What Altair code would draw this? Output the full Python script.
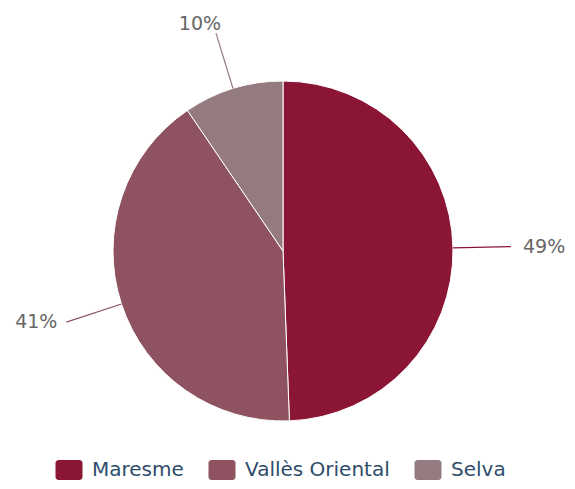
import altair as alt
import pandas as pd

categories = ["Maresme", "Vallès Oriental", "Selva"]
values = [49.4, 41.1, 9.5]
labels = ["49%", "41%", "10%"]
colors = ["#8B1535", "#8E5260", "#947B80"]
order = [0, 1, 2]

df = pd.DataFrame({"cat": categories, "value": values, "label": labels, "order": order})

W, H = 559, 473
CX, CY = 275, 243
R = 170
R_LINE = 228
FONT = "DejaVu Sans"

symbol_path = ("M-1.05,-1H1.05A0.3,0.3,0,0,1,1.35,-0.7V0.7A0.3,0.3,0,0,1,1.05,1"
               "H-1.05A0.3,0.3,0,0,1,-1.35,0.7V-0.7A0.3,0.3,0,0,1,-1.05,-1Z")

color = alt.Color(
    "cat:N",
    scale=alt.Scale(domain=categories, range=colors),
    legend=alt.Legend(
        title=None, orient="none", direction="horizontal",
        legendX=51, legendY=452, padding=0,
        symbolType=symbol_path, symbolSize=400, symbolStrokeWidth=0,
        labelFont=FONT, labelFontSize=20, labelColor="#2E4D6B",
        labelOffset=13, columnPadding=24,
    ),
)

xs = alt.Scale(domain=[-CX, W - CX], nice=False, zero=False)
ys = alt.Scale(domain=[-(H - CY), CY], nice=False, zero=False)

pie = alt.Chart(df).mark_arc(outerRadius=R, stroke="white", strokeWidth=1).encode(
    theta=alt.Theta("value:Q", stack=True),
    color=color,
    order=alt.Order("order:Q"),
    x=alt.value(CX),
    y=alt.value(CY),
)

base = (
    alt.Chart(df)
    .transform_joinaggregate(total="sum(value)")
    .transform_window(cum="sum(value)", sort=[alt.SortField("order")], frame=[None, 0])
    .transform_calculate(mid="(datum.cum - datum.value/2)/datum.total*2*PI")
    .transform_calculate(
        x1=f"{R}*sin(datum.mid)", y1=f"{R}*cos(datum.mid)",
        x2=f"{R_LINE}*sin(datum.mid)", y2=f"{R_LINE}*cos(datum.mid)",
        s="sin(datum.mid)",
    )
)

lines = base.mark_rule(strokeWidth=1.2).encode(
    x=alt.X("x1:Q", scale=xs, axis=None),
    y=alt.Y("y1:Q", scale=ys, axis=None),
    x2="x2:Q",
    y2="y2:Q",
    color=alt.Color("cat:N", scale=alt.Scale(domain=categories, range=colors), legend=None),
)

def text_layer(filt, align, baseline, dx, dy):
    return base.transform_filter(filt).mark_text(
        align=align, baseline=baseline, dx=dx, dy=dy,
        font=FONT, fontSize=19, color="#666666",
    ).encode(
        x=alt.X("x2:Q", scale=xs, axis=None),
        y=alt.Y("y2:Q", scale=ys, axis=None),
        text="label:N",
    )

t_right = text_layer("datum.s > 0.5", "left", "middle", 12, 0)
t_left = text_layer("datum.s < -0.5", "right", "middle", -9, 0)
t_top = text_layer("datum.s >= -0.5 && datum.s <= 0.5", "center", "middle", -16, -9)

chart = alt.layer(pie, lines, t_right, t_left, t_top).properties(
    width=W, height=H,
    autosize=alt.AutoSizeParams(type="none"),
    padding=0,
).configure_view(stroke=None).resolve_scale(color="shared")

chart.save("out.html", embed_options={"renderer": "svg", "actions": False})
